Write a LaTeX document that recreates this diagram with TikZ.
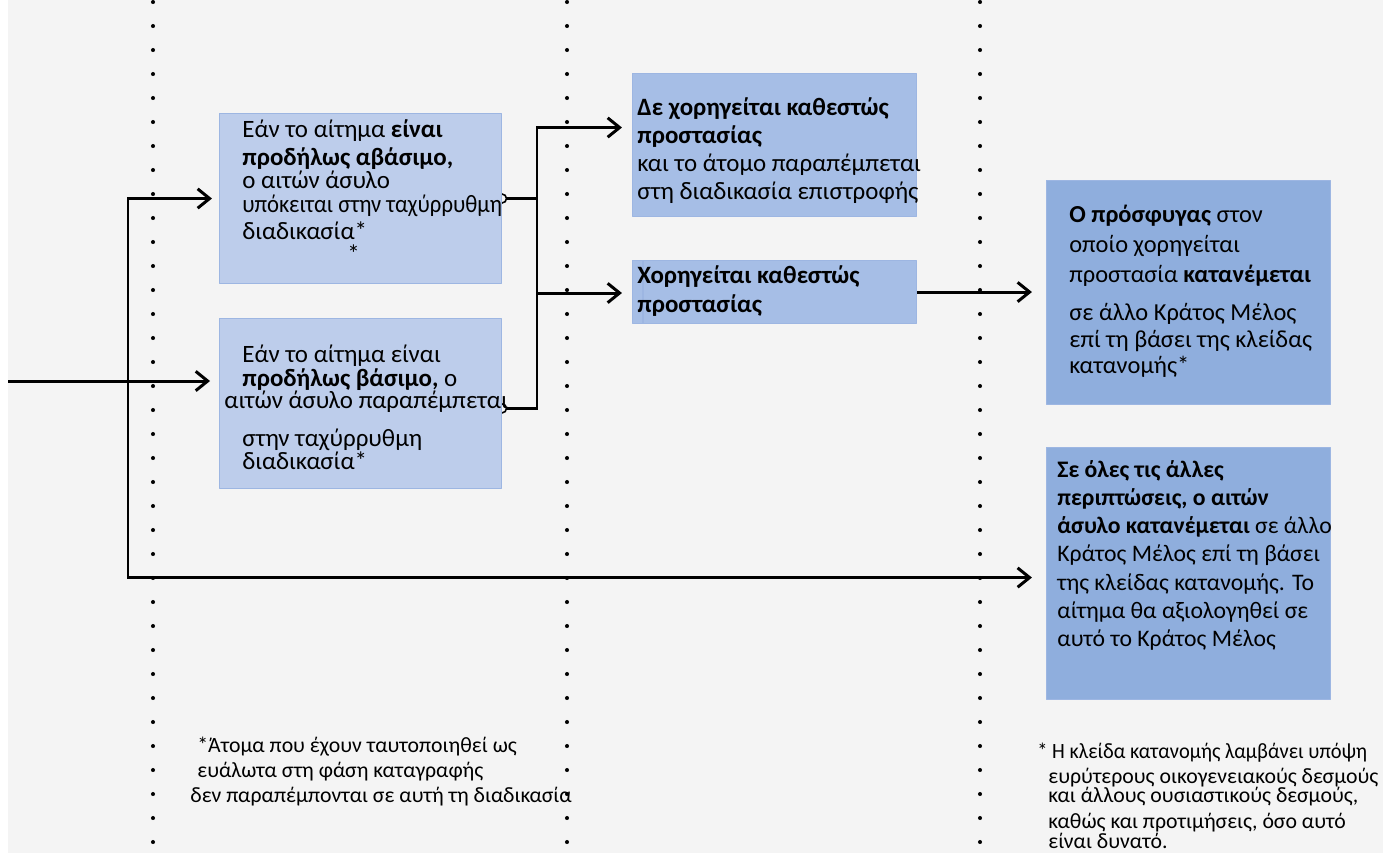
\documentclass[tikz,border=0pt]{standalone}
\usepackage{fontspec}
\setmainfont{Carlito}
\usetikzlibrary{arrows.meta}
\pgfdeclarelayer{bg}
\pgfsetlayers{bg,main}
\definecolor{paper}{HTML}{F4F4F4}
\definecolor{boxlight}{HTML}{BDCDEB}
\definecolor{boxmid}{HTML}{A6BEE6}
\definecolor{boxdark}{HTML}{8FAEDD}
\definecolor{boxedge}{HTML}{9DB6E2}
\newcommand{\squeeze}[2]{\scalebox{#1}[1]{#2}}
\tikzset{
  stage/.style={draw=boxedge, line width=0.6pt, anchor=north west, inner sep=0pt, minimum width=5.68cm},
  txt/.style={anchor=north west, inner sep=0pt, align=left, font=\fontsize{14.2}{16}\selectfont},
  note/.style={anchor=north west, inner sep=0pt, align=left, font=\fontsize{12.4}{13}\selectfont},
  link/.style={line width=1.7pt},
  hook/.style={{Circle[open,length=6pt,line width=0.9pt]}-, shorten <=-3pt},
}
\begin{document}
\begin{tikzpicture}[x=0.02cm, y=-0.02cm, line join=round, >={Straight Barb[length=6.8pt,width=11pt]}]
  \useasboundingbox (0,0) rectangle (1383,853);
  % boxes
  \node[stage, fill=boxlight, minimum width=5.64cm, minimum height=3.4cm] (abasimo) at (219,113) {};
  \node[stage, fill=boxlight, minimum width=5.64cm, minimum height=3.4cm] (basimo) at (219,318) {};
  \node[stage, fill=boxmid, minimum height=2.86cm] (arnisi) at (632,73) {};
  \node[stage, fill=boxmid, minimum height=1.26cm] (chorigisi) at (632,260) {};
  \draw[boxedge, line width=0.6pt] (643,260) -- (643,323);
  \node[stage, fill=boxdark, minimum height=4.48cm] (prosfygas) at (1046,180) {};
  \node[stage, fill=boxdark, minimum height=5.04cm] (loipes) at (1046,447) {};
  % texts
  \node[txt] (tabasimo) at (242,117) {\rule{0pt}{11.2pt}Εάν το αίτημα \textbf{είναι}\\
    \textbf{προδήλως αβάσιμο,}\\[-2.6pt]
    ο αιτών άσυλο\\[-2.2pt]
    \squeeze{0.91}{υπόκειται στην ταχύρρυθμη}\\[-0.8pt]
    διαδικασία*\\[-2.9pt]
    \hspace*{2.1cm}*};
  \node[txt] (tbasimo) at (242,342) {\rule{0pt}{11.2pt}Εάν το αίτημα είναι\\[-2.3pt]
    \textbf{προδήλως βάσιμο,} ο\\[-3.1pt]
    \hspace*{-0.36cm}αιτών άσυλο παραπέμπεται\\[5.7pt]
    στην ταχύρρυθμη\\[-2.9pt]
    διαδικασία*};
  \node[txt] (tarnisi) at (637,95) {\rule{0pt}{11.2pt}\textbf{Δε χορηγείται καθεστώς}\\
    \textbf{προστασίας}\\
    και το άτομο παραπέμπεται\\
    στη διαδικασία επιστροφής};
  \node[txt] (tchorigisi) at (637,263) {\rule{0pt}{11.2pt}\textbf{Χορηγείται καθεστώς}\\[0.6pt]
    \textbf{προστασίας}};
  \node[txt, font=\fontsize{13.9}{16}\selectfont] (tprosfygas) at (1069,202) {\rule{0pt}{11.2pt}\textbf{Ο πρόσφυγας} στον\\[1.1pt]
    οποίο χορηγείται\\[1.1pt]
    προστασία \textbf{κατανέμεται}\\[5.6pt]
    σε άλλο Κράτος Μέλος\\[-0.6pt]
    επί τη βάσει της κλείδας\\[-1.2pt]
    κατανομής*};
  \node[txt, font=\fontsize{13.5}{16.1}\selectfont] (tloipes) at (1057,457) {\rule{0pt}{11.2pt}\textbf{Σε όλες τις άλλες}\\
    \textbf{περιπτώσεις, ο αιτών}\\
    \textbf{άσυλο κατανέμεται} σε άλλο\\
    Κράτος Μέλος επί τη βάσει\\
    της κλείδας κατανομής. Το\\
    αίτημα θα αξιολογηθεί σε\\
    αυτό το Κράτος Μέλος};
  % footnotes
  \node[note] (evalota) at (197,733) {\rule{0pt}{11pt}*Άτομα που έχουν ταυτοποιηθεί ως\\[1.2pt]
    ευάλωτα στη φάση καταγραφής\\[1.2pt]
    \hspace*{-0.14cm}δεν παραπέμπονται σε αυτή τη διαδικασία};
  \node[note] (kleida) at (1037,739) {\rule{0pt}{11pt}\squeeze{0.94}{* Η κλείδα κατανομής λαμβάνει υπόψη}\\[1.2pt]
    \hspace*{0.22cm}ευρύτερους οικογενειακούς δεσμούς\\[-2.2pt]
    \hspace*{0.22cm}και άλλους ουσιαστικούς δεσμούς,\\[1.8pt]
    \hspace*{0.22cm}καθώς και προτιμήσεις, όσο αυτό\\[-1.5pt]
    \hspace*{0.22cm}είναι δυνατό.};
  \begin{pgfonlayer}{bg}
    \fill[paper] (8,0) rectangle (1383,853);
    \foreach \x in {153,567,980}
      \draw[line width=2.3pt, line cap=round, dash pattern=on 0pt off 13.66pt] (\x,2) -- (\x,853);
    \coordinate (in) at (8,381);
    \coordinate (fork) at (128,381);
    \coordinate (jn) at (537,293);
    \draw[link,->,shorten >=5.1pt] (in) -- (in -| basimo.west);
    \draw[link,->,shorten >=4pt] (fork) |- (abasimo.west);
    \draw[link,->,shorten >=8pt] (fork) |- ([yshift=-2.3pt]loipes.west);
    \draw[link,hook] (abasimo.east) -| (jn);
    \draw[link,hook] ([yshift=-2.8pt]basimo.east) -| (jn);
    \draw[link,->,shorten >=5.7pt] (jn) |- ([yshift=0.35cm]arnisi.west);
    \draw[link,->,shorten >=5.7pt] (jn) -- (jn -| chorigisi.west);
    \draw[link,hook,->,shorten >=8pt] (chorigisi.east) -- (prosfygas.west |- chorigisi.east);
  \end{pgfonlayer}
\end{tikzpicture}
\end{document}
